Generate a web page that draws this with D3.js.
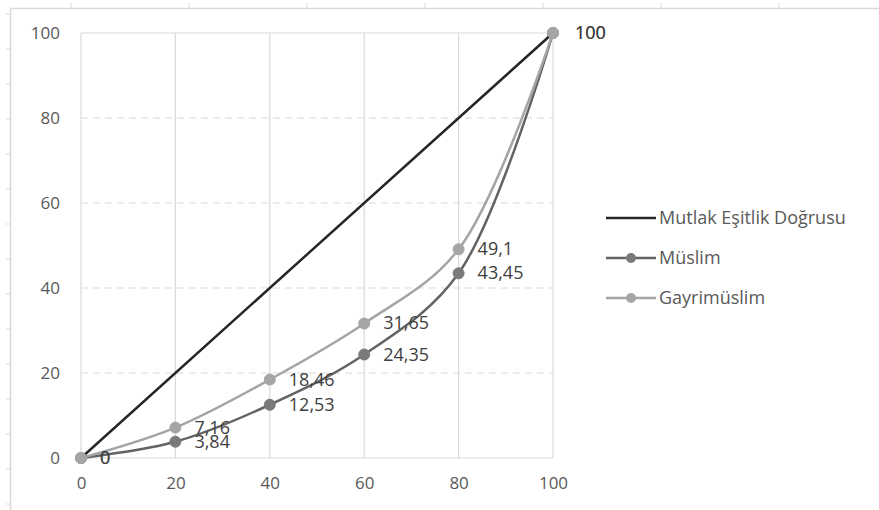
<!DOCTYPE html>
<html>
<head>
<meta charset="utf-8">
<script src="https://cdn.jsdelivr.net/npm/d3@7"></script>
<style>
  body { margin: 0; background: #fff; }
  svg { display: block; font-family: "Open Sans", Lato, sans-serif; }
</style>
</head>
<body>
<svg id="chart" width="879" height="510"></svg>
<script>
const xValues = [0, 20, 40, 60, 80, 100];
const equality = [0, 100];
const muslim = [0, 3.84, 12.53, 24.35, 43.45, 100];
const gayrimuslim = [0, 7.16, 18.46, 31.65, 49.1, 100];
const muslimLabels = ["0", "3,84", "12,53", "24,35", "43,45", "100"];
const gayriLabels = ["0", "7,16", "18,46", "31,65", "49,1", "100"];
const ticks = [0, 20, 40, 60, 80, 100];
const legendNames = ["Mutlak Eşitlik Doğrusu", "Müslim", "Gayrimüslim"];

const svg = d3.select("#chart");
const font = "'Open Sans', Lato, sans-serif";

// outer sheet frame with ruler ticks
const frame = svg.append("g").attr("stroke", "#d9d9d9").attr("fill", "none");
frame.append("path").attr("d", "M10.5,510 V8.5 H879").attr("stroke-width", 1.5);
d3.range(71, 879, 118).forEach(x => {
    frame.append("line").attr("x1", x).attr("x2", x).attr("y1", 3).attr("y2", 8);
});
d3.range(14, 510, 35).forEach(y => {
    frame.append("line").attr("x1", 6).attr("x2", 10).attr("y1", y).attr("y2", y);
});

const x = d3.scaleLinear().domain([0, 100]).range([81, 553]);
const y = d3.scaleLinear().domain([0, 100]).range([458, 33]);

// gridlines
const grid = svg.append("g");
ticks.forEach(t => {
    grid.append("line")
        .attr("x1", x(t)).attr("x2", x(t)).attr("y1", y(0)).attr("y2", y(100))
        .attr("stroke", "#d9d9d9").attr("stroke-width", 1.2);
});
ticks.forEach(t => {
    const solid = t === 0 || t === 100;
    grid.append("line")
        .attr("x1", x(0)).attr("x2", x(100)).attr("y1", y(t)).attr("y2", y(t))
        .attr("stroke", "#d9d9d9").attr("stroke-width", 1.2)
        .attr("stroke-dasharray", solid ? null : "7,5");
});

// axes
const xAxis = svg.append("g").attr("transform", `translate(0,${y(0)})`)
    .call(d3.axisBottom(x).tickValues(ticks).tickSize(0).tickPadding(19));
const yAxis = svg.append("g").attr("transform", `translate(${x(0) - 21},0)`)
    .call(d3.axisLeft(y).tickValues(ticks).tickSize(0).tickPadding(0));
[xAxis, yAxis].forEach(a => {
    a.select(".domain").remove();
    a.selectAll("text").attr("fill", "#595959").attr("font-size", 17)
        .attr("font-family", font);
});

const line = d3.line().x(d => x(d[0])).y(d => y(d[1]));
const smooth = d3.line().x(d => x(d[0])).y(d => y(d[1])).curve(d3.curveCatmullRom.alpha(0.5));

// equality line
svg.append("path")
    .datum(equality.map(v => [v, v]))
    .attr("d", line).attr("fill", "none").attr("stroke", "#262626").attr("stroke-width", 2.5);

const series = [
    { vals: muslim, labels: muslimLabels, stroke: "#636363", fill: "#7a7a7a" },
    { vals: gayrimuslim, labels: gayriLabels, stroke: "#a5a5a5", fill: "#a5a5a5" }
];

series.forEach(s => {
    const pts = xValues.map((xv, i) => [xv, s.vals[i]]);
    svg.append("path").datum(pts).attr("d", smooth)
        .attr("fill", "none").attr("stroke", s.stroke).attr("stroke-width", 2.5);
});
series.forEach(s => {
    const pts = xValues.map((xv, i) => [xv, s.vals[i]]);
    svg.append("g").selectAll("circle").data(pts).enter().append("circle")
        .attr("cx", d => x(d[0])).attr("cy", d => y(d[1])).attr("r", 5.5)
        .attr("fill", s.fill).attr("stroke", s.fill);
});
series.forEach(s => {
    const pts = xValues.map((xv, i) => [xv, s.vals[i], s.labels[i]]);
    svg.append("g").selectAll("text").data(pts).enter().append("text")
        .attr("x", d => x(d[0]) + (d[0] === 100 ? 22 : 19))
        .attr("y", d => y(d[1]) + 6)
        .attr("fill", "#404040").attr("font-size", 18).attr("font-family", font)
        .text(d => d[2]);
});

// legend
const legendY = [218, 258, 298];
const legendStyles = [
    { stroke: "#262626", marker: null },
    { stroke: "#636363", marker: "#7a7a7a" },
    { stroke: "#a5a5a5", marker: "#a5a5a5" }
];
legendNames.forEach((name, i) => {
    const g = svg.append("g").attr("transform", `translate(0,${legendY[i]})`);
    g.append("line").attr("x1", 606).attr("x2", 656).attr("y1", 0).attr("y2", 0)
        .attr("stroke", legendStyles[i].stroke).attr("stroke-width", 2.5);
    if (legendStyles[i].marker) {
        g.append("circle").attr("cx", 631).attr("cy", 0).attr("r", 5)
            .attr("fill", legendStyles[i].marker);
    }
    g.append("text").attr("x", 659).attr("y", 6).attr("fill", "#595959")
        .attr("font-size", 18).attr("font-family", font).text(name);
});
</script>
</body>
</html>
